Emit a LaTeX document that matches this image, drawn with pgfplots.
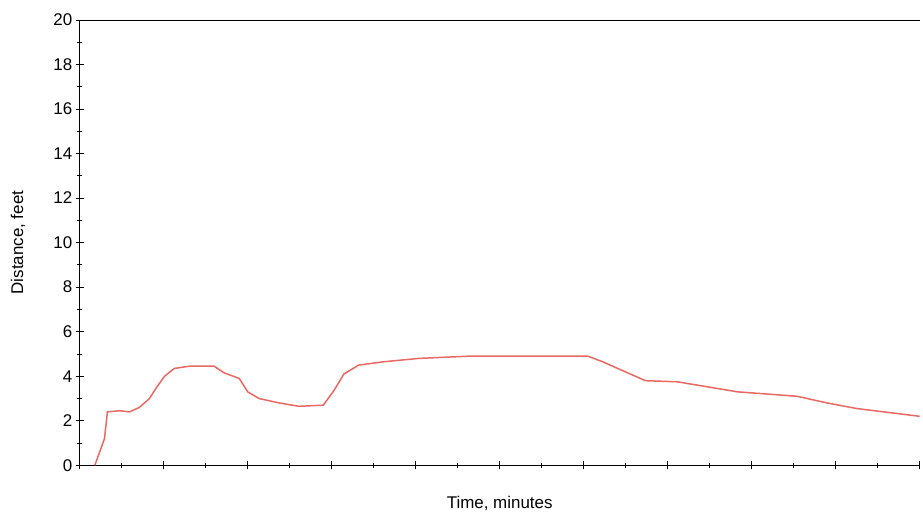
\documentclass[border=0pt]{standalone}
\usepackage{fontspec}
\setmainfont{Liberation Sans}
\usepackage{pgfplots}
\pgfplotsset{compat=1.18}
\begin{document}
\begin{tikzpicture}
\begin{axis}[
  scale only axis, width=843pt, height=447pt,
  xmin=0, xmax=20, ymin=0, ymax=20,
  axis lines=left, axis line style={-, thick},
  xtick={0,2,...,20}, minor xtick={1,3,...,19}, xticklabels={},
  ytick={0,2,...,20}, minor ytick={1,3,...,19},
  tick style={thick, black}, major tick length=8pt, minor tick length=5pt,
  ticklabel style={font=\fontsize{17}{19}\selectfont},
  /pgf/number format/assume math mode=true,
  xlabel={Time, minutes}, ylabel={Distance, feet},
  label style={font=\fontsize{17}{19}\selectfont},
  xlabel style={at={(rel axis cs:0.5,-0.085)}, anchor=center},
  ylabel style={at={(rel axis cs:-0.0735,0.5)}, anchor=center},
  clip=false,
]
\addplot[color={rgb,255:red,230;green,105;blue,100}, line width=1.5pt] coordinates {
(0.36,0) (0.59,1.2) (0.66,2.4) (0.95,2.45) (1.19,2.4) (1.42,2.6) (1.66,3.0)
(1.83,3.5) (2.02,4.0) (2.25,4.35) (2.61,4.45) (3.2,4.45) (3.44,4.15) (3.8,3.9)
(4.0,3.3) (4.27,3.0) (4.75,2.8) (5.22,2.65) (5.8,2.7) (6.05,3.35) (6.29,4.1)
(6.64,4.5) (7.24,4.65) (8.07,4.8) (9.25,4.9) (12.1,4.9) (12.45,4.65) (13.05,4.15)
(13.47,3.8) (14.23,3.75) (15.66,3.3) (17.08,3.1) (17.8,2.8) (18.5,2.55) (20.0,2.2)};
\draw[thick] (rel axis cs:0,1) -- (rel axis cs:1,1);
\path (rel axis cs:0,1) ++(-80pt,20pt);
\path (rel axis cs:1,0) ++(0,-54pt);
\end{axis}
\end{tikzpicture}
\end{document}
